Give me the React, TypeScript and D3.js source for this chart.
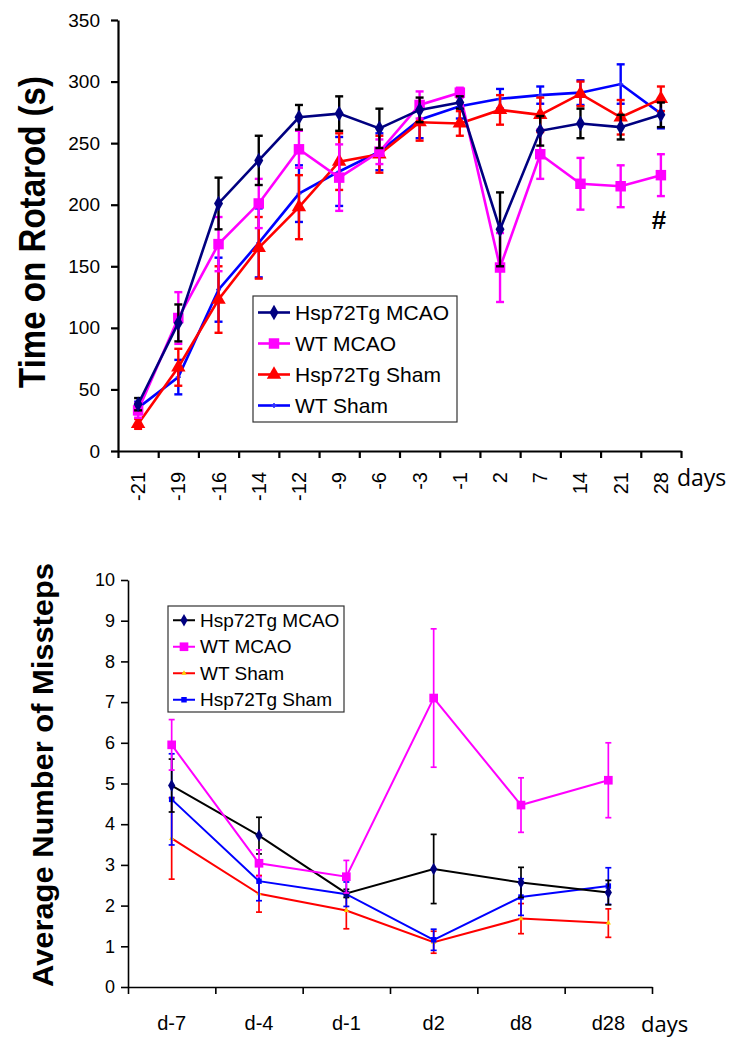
import React, { useEffect, useRef } from "react";
import * as d3 from "d3";

const FONT = "Arial, 'Liberation Sans', sans-serif";

// ---- top panel: rotarod ----
const rotCats = ["-21", "-19", "-16", "-14", "-12", "-9", "-6", "-3", "-1", "2", "7", "14", "21", "28"];
const rotTicks = [0, 50, 100, 150, 200, 250, 300, 350];

const tgMcaoRot = [38, 104, 201, 236, 271, 274, 262, 277, 283, 180, 260, 266, 263, 273];
const tgMcaoRotErr = [5, 15, 21, 20, 10, 14, 16, 10, 5, 30, 12, 12, 10, 10];
const wtMcaoRot = [33, 108, 168, 201, 245, 222, 243, 281, 291, 149, 241, 217, 215, 224];
const wtMcaoRotErr = [6, 21, 22, 20, 15, 27, 10, 11, 4, 28, 20, 21, 17, 17];
const tgShamRot = [22, 68, 123, 165, 198, 235, 241, 267, 266, 277, 273, 290, 271, 286];
const tgShamRotErr = [4, 15, 27, 25, 26, 23, 15, 15, 10, 12, 14, 10, 14, 10];
const wtShamRot = [35, 60, 131, 169, 209, 227, 243, 269, 280, 286, 289, 291, 298, 274];
const wtShamRotErr = [5, 14, 26, 28, 23, 28, 15, 15, 10, 8, 7, 10, 16, 12];

// ---- bottom panel: missteps ----
const missCats = ["d-7", "d-4", "d-1", "d2", "d8", "d28"];
const missTicks = [0, 1, 2, 3, 4, 5, 6, 7, 8, 9, 10];

const tgMcaoMiss = [4.95, 3.72, 2.3, 2.9, 2.57, 2.32];
const tgMcaoMissErr = [0.65, 0.45, 0.1, 0.85, 0.37, 0.3];
const wtMcaoMiss = [5.95, 3.04, 2.71, 7.1, 4.47, 5.08];
const wtMcaoMissErr = [0.62, 0.33, 0.4, 1.7, 0.67, 0.92];
const wtShamMiss = [3.65, 2.29, 1.88, 1.1, 1.68, 1.57];
const wtShamMissErr = [1.0, 0.45, 0.45, 0.27, 0.37, 0.35];
const tgShamMiss = [4.61, 2.6, 2.28, 1.16, 2.21, 2.48];
const tgShamMissErr = [1.12, 0.48, 0.3, 0.26, 0.45, 0.45];

type Series = {
  name: string;
  values: number[];
  errors: number[];
  line: string;
  err: string;
  shape: d3.SymbolType;
  fill: string;
  size: number;
};

const topSeries: Series[] = [
  { name: "Hsp72Tg MCAO", values: tgMcaoRot, errors: tgMcaoRotErr, line: "#000080", err: "#000000", shape: d3.symbolDiamond, fill: "#000080", size: 70 },
  { name: "WT MCAO", values: wtMcaoRot, errors: wtMcaoRotErr, line: "#FF00FF", err: "#FF00FF", shape: d3.symbolSquare, fill: "#FF00FF", size: 110 },
  { name: "Hsp72Tg Sham", values: tgShamRot, errors: tgShamRotErr, line: "#FF0000", err: "#FF0000", shape: d3.symbolTriangle, fill: "#FF0000", size: 90 },
  { name: "WT Sham", values: wtShamRot, errors: wtShamRotErr, line: "#0000FF", err: "#0000FF", shape: d3.symbolCross, fill: "#3333FF", size: 14 },
];

const botSeries: Series[] = [
  { name: "Hsp72Tg MCAO", values: tgMcaoMiss, errors: tgMcaoMissErr, line: "#000000", err: "#000000", shape: d3.symbolDiamond, fill: "#000080", size: 45 },
  { name: "WT MCAO", values: wtMcaoMiss, errors: wtMcaoMissErr, line: "#FF00FF", err: "#FF00FF", shape: d3.symbolSquare, fill: "#FF00FF", size: 75 },
  { name: "WT Sham", values: wtShamMiss, errors: wtShamMissErr, line: "#FF0000", err: "#FF0000", shape: d3.symbolTriangle, fill: "#FFCC00", size: 12 },
  { name: "Hsp72Tg Sham", values: tgShamMiss, errors: tgShamMissErr, line: "#0000FF", err: "#0000FF", shape: d3.symbolSquare, fill: "#0000FF", size: 30 },
];

const drawOrderTop = [3, 2, 1, 0];
const drawOrderBot = [2, 3, 0, 1];

const Panel = ({ series, order, x, y, lineW, errW, cap }: any) => {
  const cx = (i: number) => x(x.domain()[i]) + x.bandwidth() / 2;
  const line = d3.line<number>().x((_, i) => cx(i)).y((v) => y(v));
  return (
    <g>
      {order.map((k: number) => {
        const s: Series = series[k];
        return (
          <g key={s.name}>
            {s.values.map((v, i) => (
              <g key={i} stroke={s.err} strokeWidth={errW}>
                <line x1={cx(i)} x2={cx(i)} y1={y(v + s.errors[i])} y2={y(v - s.errors[i])} />
                <line x1={cx(i) - cap} x2={cx(i) + cap} y1={y(v + s.errors[i])} y2={y(v + s.errors[i])} />
                <line x1={cx(i) - cap} x2={cx(i) + cap} y1={y(v - s.errors[i])} y2={y(v - s.errors[i])} />
              </g>
            ))}
            <path d={line(s.values) || ""} fill="none" stroke={s.line} strokeWidth={lineW} />
            {s.values.map((v, i) => (
              <path
                key={i}
                transform={`translate(${cx(i)},${y(v)})`}
                d={d3.symbol().type(s.shape).size(s.size)() || ""}
                fill={s.fill}
                stroke={s.shape === d3.symbolCross ? "none" : "none"}
              />
            ))}
          </g>
        );
      })}
    </g>
  );
};

const Legend = ({ series, x, y, w, h, rowH, fontSize, lineLen, lineW }: any) => (
  <g>
    <rect x={x} y={y} width={w} height={h} fill="#fff" stroke="#333" strokeWidth={1.2} />
    {series.map((s: Series, i: number) => {
      const cy = y + rowH * (i + 0.5) + 1;
      return (
        <g key={s.name}>
          <line x1={x + 5} x2={x + 5 + lineLen} y1={cy} y2={cy} stroke={s.line} strokeWidth={lineW} />
          <path
            transform={`translate(${x + 5 + lineLen / 2},${cy})`}
            d={d3.symbol().type(s.shape).size(s.size)() || ""}
            fill={s.fill}
          />
          <text x={x + lineLen + 10} y={cy} dominantBaseline="central" fontSize={fontSize} fontFamily={FONT}>
            {s.name}
          </text>
        </g>
      );
    })}
  </g>
);

export default function App() {
  const topAxes = useRef<SVGGElement>(null);
  const botAxes = useRef<SVGGElement>(null);

  const xTop = d3.scaleBand().domain(rotCats).range([118, 681]);
  const yTop = d3.scaleLinear().domain([0, 350]).range([451, 20]);
  const xBot = d3.scaleBand().domain(missCats).range([128, 652]);
  const yBot = d3.scaleLinear().domain([0, 10]).range([987, 580]);

  useEffect(() => {
    const drawAxes = (el: SVGGElement | null, xs: any, ys: any, ticks: number[], fs: number, pad: number, sw: number) => {
      const g = d3.select(el);
      g.selectAll("*").remove();
      const [x0, x1] = xs.range();
      const n = xs.domain().length;
      const xb = d3.scaleLinear().domain([0, n]).range([x0, x1]);
      g.append("g")
        .attr("transform", `translate(0,${ys.range()[0]})`)
        .call(d3.axisBottom(xb).tickValues(d3.range(0, n + 1)).tickFormat(() => "").tickSize(7).tickSizeOuter(0));
      g.append("g")
        .attr("transform", `translate(${x0},0)`)
        .call(d3.axisLeft(ys).tickValues(ticks).tickSize(7).tickPadding(pad).tickSizeOuter(0))
        .selectAll("text")
        .attr("font-size", fs)
        .attr("font-family", FONT)
        .attr("fill", "#000");
      g.selectAll("path,line").attr("stroke", "#000").attr("stroke-width", sw);
    };
    drawAxes(topAxes.current, xTop, yTop, rotTicks, 19, 11, 2.2);
    drawAxes(botAxes.current, xBot, yBot, missTicks, 18, 6, 1.6);
  }, []);

  return (
    <div style={{ position: "absolute", left: 0, top: 0, background: "#fff" }}>
      <svg width={738} height={1050} style={{ display: "block" }}>
        <rect width={738} height={1050} fill="#fff" />

        {/* top panel */}
        <text
          transform="translate(45,232) rotate(-90) scale(1,1.15)"
          textAnchor="middle"
          fontSize={32}
          fontWeight="bold"
          fontFamily={FONT}
          textLength={312}
          lengthAdjust="spacingAndGlyphs"
        >
          Time on Rotarod (s)
        </text>
        <Panel series={topSeries} order={drawOrderTop} x={xTop} y={yTop} lineW={2.6} errW={2.4} cap={4} />
        <g ref={topAxes} />
        {rotCats.map((c) => (
          <text
            key={c}
            transform={`translate(${(xTop(c) || 0) + xTop.bandwidth() / 2},472) rotate(-90)`}
            textAnchor="end"
            dominantBaseline="central"
            fontSize={20}
            fontFamily={FONT}
          >
            {c}
          </text>
        ))}
        <text x={677} y={486} fontSize={23} fontFamily="'Open Sans', sans-serif">
          days
        </text>
        <text x={659} y={229} textAnchor="middle" fontSize={26} fontWeight="bold" fontFamily={FONT}>
          #
        </text>
        <Legend series={topSeries} x={253} y={296} w={204} h={126} rowH={31} fontSize={21} lineLen={32} lineW={2.6} />

        {/* bottom panel */}
        <text
          transform="translate(53,775) rotate(-90)"
          textAnchor="middle"
          fontSize={29}
          fontWeight="bold"
          fontFamily={FONT}
          textLength={424}
          lengthAdjust="spacingAndGlyphs"
        >
          Average Number of Missteps
        </text>
        <Panel series={botSeries} order={drawOrderBot} x={xBot} y={yBot} lineW={2} errW={1.7} cap={3} />
        <g ref={botAxes} />
        {missCats.map((c) => (
          <text
            key={c}
            x={(xBot(c) || 0) + xBot.bandwidth() / 2}
            y={1030}
            textAnchor="middle"
            fontSize={20}
            fontFamily={FONT}
          >
            {c}
          </text>
        ))}
        <text x={641} y={1032} fontSize={22} fontFamily="'Open Sans', sans-serif">
          days
        </text>
        <Legend series={botSeries} x={168} y={606} w={176} h={106} rowH={26.5} fontSize={19} lineLen={22} lineW={2} />
      </svg>
    </div>
  );
}
